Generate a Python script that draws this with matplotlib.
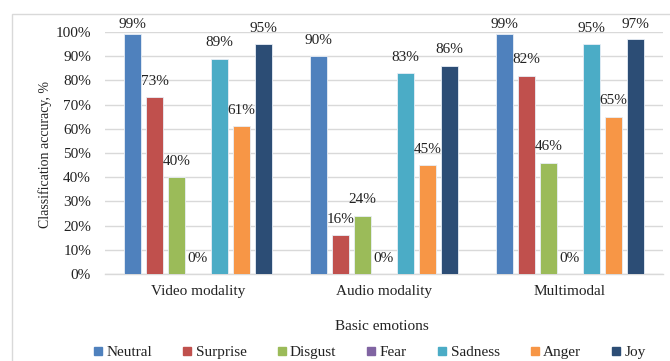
import matplotlib
matplotlib.use("Agg")
import matplotlib.pyplot as plt
from matplotlib.patches import Rectangle
from matplotlib.lines import Line2D
import numpy as np

# Data
groups = ["Video modality", "Audio modality", "Multimodal"]
emotions = ["Neutral", "Surprise", "Disgust", "Fear", "Sadness", "Anger", "Joy"]
neutral = [99, 90, 99]
surprise = [73, 16, 82]
disgust = [40, 24, 46]
fear = [0, 0, 0]
sadness = [89, 83, 95]
anger = [61, 45, 65]
joy = [95, 86, 97]
yticks = [0, 10, 20, 30, 40, 50, 60, 70, 80, 90, 100]

series = [neutral, surprise, disgust, fear, sadness, anger, joy]
colors = ["#4F81BD", "#C0504D", "#9BBB59", "#8064A2", "#4BACC6", "#F79646", "#2C4D75"]

plt.rcParams["font.family"] = ["Liberation Serif", "DejaVu Serif"]
FS = 11
TXT = "#222222"

W, H = 670, 361
fig = plt.figure(figsize=(W / 100, H / 100), dpi=100)
ax = fig.add_axes([105 / W, 1 - 274 / H, 558 / W, 242 / H])

# outer chart frame
fig.patches.append(Rectangle((12 / W, -0.2), 1.2, 1 - 14 / H + 0.2,
                             transform=fig.transFigure, fill=False,
                             edgecolor="#D9D9D9", linewidth=1.0))

x = np.arange(len(groups))
slot = 0.117
bw = 0.092
n = len(series)
for i, (vals, c) in enumerate(zip(series, colors)):
    pos = x + (i - (n - 1) / 2) * slot
    ax.bar(pos, vals, width=bw, color=c, edgecolor="#E8EEF6", linewidth=0.6, zorder=3)
    for p, v in zip(pos, vals):
        ty = min(v + 6.6, 103.0)
        ax.text(p, ty, f"{v}%", ha="center", va="center", fontsize=FS,
                color=TXT, clip_on=False, zorder=4)

ax.set_xlim(-0.5, 2.5)
ax.set_ylim(0, 100)
ax.set_yticks(yticks)
ax.set_yticklabels([f"{t}%" for t in yticks])
ax.set_xticks(x)
ax.set_xticklabels(groups)
ax.tick_params(axis="both", length=0, labelsize=FS, colors=TXT)
ax.tick_params(axis="y", pad=10)
ax.tick_params(axis="x", pad=8)
ax.yaxis.grid(True, color="#D9D9D9", linewidth=1.0, zorder=0)
ax.set_axisbelow(True)
for s in ["top", "right", "left"]:
    ax.spines[s].set_visible(False)
ax.spines["bottom"].set_color("#D9D9D9")
ax.spines["bottom"].set_linewidth(1.0)

fig.text(45 / W, 1 - 155 / H, "Classification accuracy, %", rotation=90,
         ha="center", va="center", fontsize=10, color=TXT)
fig.text(382 / W, 1 - 327 / H, "Basic emotions", ha="center", va="center",
         fontsize=FS, color=TXT)

handles = [Line2D([], [], marker="s", linestyle="none", markersize=5.5,
                  markerfacecolor=c, markeredgecolor=c) for c in colors]
fig.legend(handles, emotions, loc="center", bbox_to_anchor=(370 / W, 1 - 352 / H),
           ncol=7, frameon=False, fontsize=FS, handlelength=0.5,
           handletextpad=0.3, columnspacing=2.05, borderpad=0,
           labelcolor=TXT)

fig.savefig("out.png", dpi=100)
